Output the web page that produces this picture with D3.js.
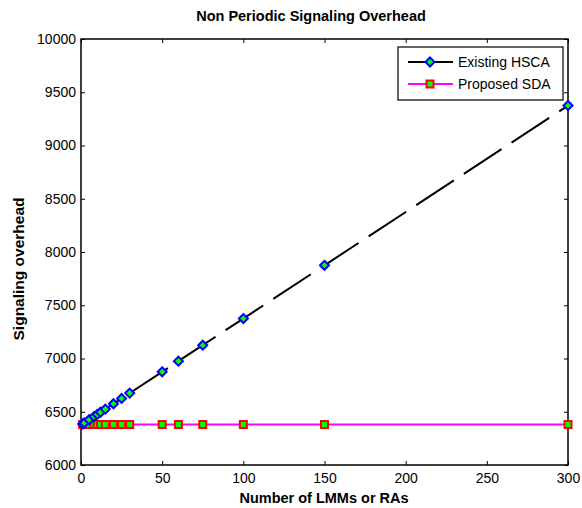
<!DOCTYPE html>
<html>
<head>
<meta charset="utf-8">
<script src="https://cdn.jsdelivr.net/npm/d3@7"></script>
<style>
  body { margin:0; background:#fff; }
  svg { display:block; font-family: Arial, "Liberation Sans", Helvetica, sans-serif; }
  .tick text { font-size:14px; fill:#000; }
</style>
</head>
<body>
<svg id="chart" width="582" height="508"></svg>
<script>
'use strict';
// data
const xValues   = [1, 2, 5, 8, 10, 12, 15, 20, 25, 30, 50, 60, 75, 100, 150, 300];
const hscaValues = [6385, 6395, 6425, 6455, 6475, 6495, 6525, 6575, 6625, 6675, 6875, 6975, 7125, 7375, 7875, 9375];
const sdaValues  = [6380, 6380, 6380, 6380, 6380, 6380, 6380, 6380, 6380, 6380, 6380, 6380, 6380, 6380, 6380, 6380];
const xTicks = [0, 50, 100, 150, 200, 250, 300];
const yTicks = [6000, 6500, 7000, 7500, 8000, 8500, 9000, 9500, 10000];
const seriesNames = ['Existing HSCA', 'Proposed SDA'];

const svg = d3.select('#chart');
const L = 81, R = 568, T = 39, B = 465;
const x = d3.scaleLinear().domain([0, 300]).range([L, R]);
const y = d3.scaleLinear().domain([6000, 10000]).range([B, T]);

// axes, ticks point inward, box on all sides
const tk = 4;
svg.append('g').attr('transform', `translate(0,${B})`)
  .call(d3.axisBottom(x).tickValues(xTicks).tickSize(-tk).tickPadding(tk + 4).tickFormat(d3.format('d')))
  .call(g => g.select('.domain').remove());
svg.append('g').attr('transform', `translate(${L},0)`)
  .call(d3.axisLeft(y).tickValues(yTicks).tickSize(-tk).tickPadding(tk + 1).tickFormat(d3.format('d')))
  .call(g => g.select('.domain').remove());
svg.append('g').attr('transform', `translate(0,${T})`)
  .call(d3.axisTop(x).tickValues(xTicks).tickSize(-tk).tickFormat(''))
  .call(g => g.select('.domain').remove());
svg.append('g').attr('transform', `translate(${R},0)`)
  .call(d3.axisRight(y).tickValues(yTicks).tickSize(-tk).tickFormat(''))
  .call(g => g.select('.domain').remove());
svg.selectAll('.tick line').attr('stroke', '#000').attr('stroke-width', 1);
svg.selectAll('.tick text').attr('font-family', 'Arial, "Liberation Sans", sans-serif').attr('font-size', 14);
svg.append('rect').attr('x', L).attr('y', T).attr('width', R - L).attr('height', B - T)
  .attr('fill', 'none').attr('stroke', '#000').attr('stroke-width', 1.5);

const hsca = xValues.map((d, i) => [d, hscaValues[i]]);
const sda = xValues.map((d, i) => [d, sdaValues[i]]);
const line = d3.line().x(d => x(d[0])).y(d => y(d[1]));

svg.append('path').datum(sda).attr('d', line).attr('fill', 'none')
  .attr('stroke', '#ff00ff').attr('stroke-width', 2);
svg.append('path').datum(hsca).attr('d', line).attr('fill', 'none')
  .attr('stroke', '#000').attr('stroke-width', 2).attr('stroke-dasharray', '45,12');

const diamond = (cx, cy, r) => `M${cx},${cy - r}L${cx + r},${cy}L${cx},${cy + r}L${cx - r},${cy}Z`;
svg.append('g').selectAll('rect').data(sda).join('rect')
  .attr('x', d => x(d[0]) - 3.5).attr('y', d => y(d[1]) - 3.5).attr('width', 7).attr('height', 7)
  .attr('fill', '#00ff00').attr('stroke', '#ff0000').attr('stroke-width', 2);
svg.append('g').selectAll('path').data(hsca).join('path')
  .attr('d', d => diamond(x(d[0]), y(d[1]), 4.5))
  .attr('fill', '#00ff00').attr('stroke', '#0000ff').attr('stroke-width', 2);

// legend
const lg = svg.append('g');
lg.append('rect').attr('x', 398).attr('y', 47).attr('width', 165).attr('height', 53)
  .attr('fill', '#fff').attr('stroke', '#000').attr('stroke-width', 1.2);
[0, 1].forEach(i => {
  const ly = 62 + i * 22;
  lg.append('line').attr('x1', 408).attr('x2', 453).attr('y1', ly).attr('y2', ly)
    .attr('stroke', i ? '#ff00ff' : '#000').attr('stroke-width', 2);
  if (i) lg.append('rect').attr('x', 426.5).attr('y', ly - 3.5).attr('width', 7).attr('height', 7)
    .attr('fill', '#00ff00').attr('stroke', '#ff0000').attr('stroke-width', 2);
  else lg.append('path').attr('d', diamond(430, ly, 4.5))
    .attr('fill', '#00ff00').attr('stroke', '#0000ff').attr('stroke-width', 2);
  lg.append('text').attr('x', 458).attr('y', ly + 5).attr('font-size', 14).text(seriesNames[i]);
});

// titles
svg.append('text').attr('x', 311).attr('y', 21).attr('text-anchor', 'middle')
  .attr('font-weight', 'bold').attr('font-size', 14.5).text('Non Periodic Signaling Overhead');
svg.append('text').attr('x', 324).attr('y', 503).attr('text-anchor', 'middle')
  .attr('font-weight', 'bold').attr('font-size', 14.5).text('Number of LMMs or RAs');
svg.append('text').attr('transform', 'translate(24,269) rotate(-90)').attr('text-anchor', 'middle')
  .attr('font-weight', 'bold').attr('font-size', 15.5).text('Signaling overhead');
</script>
</body>
</html>
